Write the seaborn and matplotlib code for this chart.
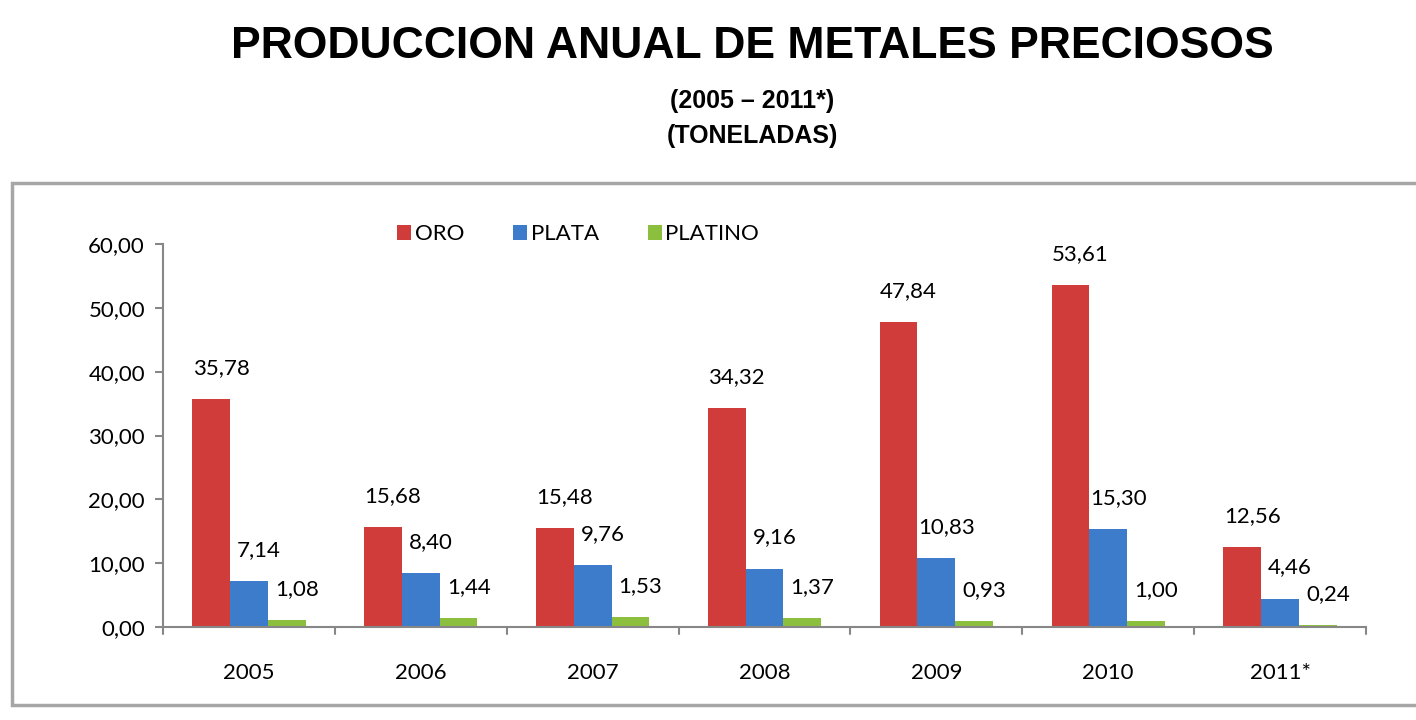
import numpy as np
import pandas as pd
import matplotlib
matplotlib.use("Agg")
import matplotlib.pyplot as plt
import seaborn as sns
from matplotlib.patches import Rectangle

years = ["2005", "2006", "2007", "2008", "2009", "2010", "2011*"]
oro = [35.78, 15.68, 15.48, 34.32, 47.84, 53.61, 12.56]
plata = [7.14, 8.40, 9.76, 9.16, 10.83, 15.30, 4.46]
platino = [1.08, 1.44, 1.53, 1.37, 0.93, 1.00, 0.24]
metals = ["ORO", "PLATA", "PLATINO"]
colors = ["#D03C3A", "#3C7CCB", "#8DBF3E"]

df = pd.DataFrame({
    "year": years * 3,
    "metal": [m for m in metals for _ in years],
    "value": oro + plata + platino,
})

sns.set_theme(style="white")
plt.rcParams["font.family"] = ["Lato", "DejaVu Sans"]
plt.rcParams["text.color"] = "black"
plt.rcParams["xtick.color"] = "black"
plt.rcParams["ytick.color"] = "black"

fig = plt.figure(figsize=(14.16, 7.2), dpi=100)
W, H = 1416, 720

# chart frame
fig.patches.append(Rectangle((12 / W, 1 - 705 / H), 1.2, (705 - 183) / H,
                             transform=fig.transFigure, facecolor="white",
                             edgecolor="#A6A6A6", lw=2.5, zorder=-5))

ax = fig.add_axes([163 / W, 1 - 627 / H, (1366 - 163) / W, (627 - 244) / H])
ax.set_facecolor("none")
sns.barplot(data=df, x="year", y="value", hue="metal", palette=colors,
            width=0.66, ax=ax, saturation=1, edgecolor="none")

ax.set_xlim(-0.5, 6.5)
ax.set_ylim(0, 60)
ax.set_yticks(np.arange(0, 61, 10))
ax.set_yticklabels([f"{v:.2f}".replace(".", ",") for v in np.arange(0, 61, 10)], fontsize=16)
ax.set_xticks(range(len(years)))
ax.set_xticklabels(years, fontsize=16)
ax.set_xlabel("")
ax.set_ylabel("")
ax.tick_params(axis="x", length=0, pad=26)
ax.tick_params(axis="y", length=6, color="#878787", width=1.5, left=True, pad=7)
for x in np.arange(-0.5, 7, 1):
    ax.plot([x, x], [0, -0.018], transform=ax.get_xaxis_transform(),
            color="#878787", lw=1.5, clip_on=False)

for s in ["top", "right"]:
    ax.spines[s].set_visible(False)
for s in ["left", "bottom"]:
    ax.spines[s].set_color("#878787")
    ax.spines[s].set_linewidth(1.5)

# data labels
for cont in ax.containers:
    for bar in cont:
        h = bar.get_height()
        ax.annotate(f"{h:.2f}".replace(".", ","),
                    (bar.get_x() + bar.get_width() / 2, h),
                    xytext=(10, 31), textcoords="offset pixels",
                    ha="center", va="center", fontsize=16, clip_on=False)

leg = ax.legend(loc="center", bbox_to_anchor=(0.345, 1.026), ncol=3,
                frameon=False, fontsize=16, handlelength=0.65, handleheight=0.65,
                handletextpad=0.15, columnspacing=2.2, borderpad=0, borderaxespad=0)

tf = dict(family=["Liberation Sans Narrow", "Liberation Sans", "DejaVu Sans"],
          fontweight="bold", ha="center", va="center", color="black")
fig.text(752 / W, 1 - 47 / H, "PRODUCCION ANUAL DE METALES PRECIOSOS", fontsize=32, **tf)
fig.text(752 / W, 1 - 101 / H, "(2005 \u2013 2011*)", fontsize=18, **tf)
fig.text(752 / W, 1 - 136 / H, "(TONELADAS)", fontsize=18, **tf)

fig.savefig("out.png", dpi=100)
